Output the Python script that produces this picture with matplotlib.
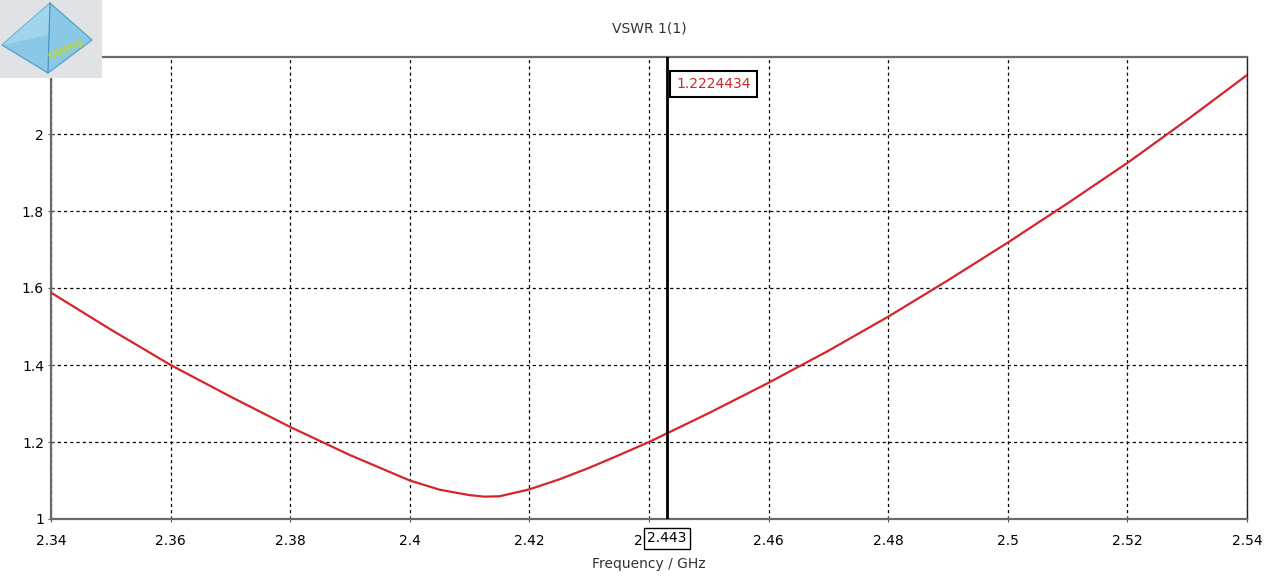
import matplotlib
matplotlib.use("Agg")
import matplotlib.pyplot as plt
from matplotlib.patches import Rectangle, Polygon

freq_ghz = [2.34, 2.35, 2.36, 2.37, 2.38, 2.39, 2.40, 2.405, 2.41, 2.4125, 2.415,
            2.42, 2.425, 2.43, 2.435, 2.44, 2.443, 2.45, 2.46, 2.47, 2.48, 2.49,
            2.50, 2.51, 2.52, 2.53, 2.54]
vswr = [1.588, 1.492, 1.400, 1.318, 1.239, 1.166, 1.100, 1.076, 1.062, 1.058, 1.059,
        1.077, 1.103, 1.133, 1.166, 1.200, 1.2224, 1.275, 1.354, 1.437, 1.5255, 1.620,
        1.718, 1.820, 1.925, 2.037, 2.153]
x_ticks = [2.34, 2.36, 2.38, 2.4, 2.42, 2.44, 2.46, 2.48, 2.5, 2.52, 2.54]
x_tick_labels = ["2.34", "2.36", "2.38", "2.4", "2.42", "2.44", "2.46", "2.48", "2.5", "2.52", "2.54"]
y_ticks = [1, 1.2, 1.4, 1.6, 1.8, 2]
y_tick_labels = ["1", "1.2", "1.4", "1.6", "1.8", "2"]
marker_freq = 2.443
marker_value = "1.2224434"
marker_label = "2.443"

fig = plt.figure(figsize=(12.8, 5.76), dpi=100)
ax = fig.add_axes([51/1280, 1-519/576, (1247-51)/1280, (519-57)/576])

ax.plot(freq_ghz, vswr, color="#d8232a", lw=1.6, zorder=3)
ax.set_xlim(2.34, 2.54)
ax.set_ylim(1, 2.2)
ax.set_xticks(x_ticks)
ax.set_xticklabels(x_tick_labels)
ax.set_yticks(y_ticks)
ax.set_yticklabels(y_tick_labels)
ax.grid(True, color="black", linestyle=(0, (2.5, 2.5)), lw=0.9)
ax.tick_params(axis="both", labelsize=10, length=4, direction="inout", color="#555555")
ax.tick_params(axis="x", pad=9)
ax.tick_params(axis="y", pad=3)
for s in ["left", "bottom", "top"]:
    ax.spines[s].set_color("#6a6a6a")
    ax.spines[s].set_linewidth(1.6)
ax.spines["right"].set_color("#222222")
ax.spines["right"].set_linewidth(1.0)

ax.set_title("VSWR 1(1)", fontsize=10, color="#333333", pad=18)
ax.set_xlabel("Frequency / GHz", fontsize=10, color="#333333", labelpad=6)

# marker
ax.axvline(marker_freq, color="black", lw=2, zorder=4)
ax.text(marker_freq + 0.0016, 2.13, marker_value, color="#d8232a", fontsize=10,
        ha="left", va="center",
        bbox=dict(boxstyle="square,pad=0.45", fc="white", ec="black", lw=1.5))
ax.annotate(marker_label, xy=(marker_freq, 1), xycoords="data", xytext=(0, -14),
            textcoords="offset points", ha="center", va="center", fontsize=10,
            color="black", annotation_clip=False, zorder=5,
            bbox=dict(boxstyle="square,pad=0.25", fc="white", ec="black", lw=1.0))

# logo approximation (top-left)
lg = fig.add_axes([0, 1-78/576, 102/1280, 78/576])
lg.set_xlim(0, 102)
lg.set_ylim(78, 0)
lg.axis("off")
lg.add_patch(Rectangle((0, 0), 102, 78, color="#dfe3e6"))
lg.add_patch(Polygon([(50, 3), (2, 45), (48, 73), (92, 40)], closed=True, fc="#7cc4e6", ec="#4a9cc8", alpha=0.85))
lg.add_patch(Polygon([(50, 3), (2, 45), (48, 35)], closed=True, fc="#a6d9f0", alpha=0.8))
lg.plot([50, 48], [3, 73], color="#3f8fbf", lw=0.8)
lg.text(66, 50, "OWFO", color="#b9d34a", fontsize=8, fontweight="bold", rotation=22,
        ha="center", va="center")

fig.savefig("out.png", dpi=100)
